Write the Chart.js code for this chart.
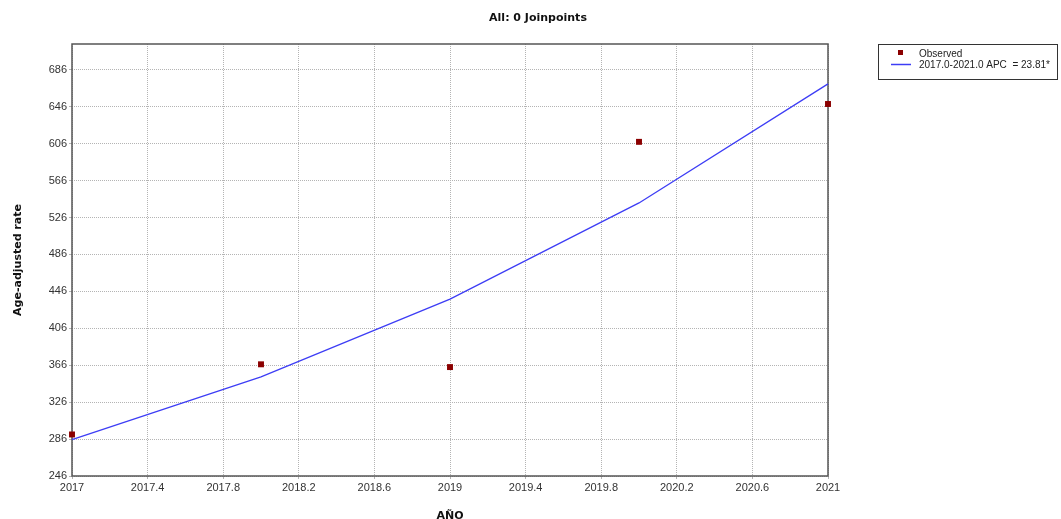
<!DOCTYPE html>
<html>
<head>
<meta charset="utf-8">
<script src="https://cdn.jsdelivr.net/npm/chart.js@4/dist/chart.umd.min.js"></script>
<style>
  html, body { margin: 0; padding: 0; background: #fff; }
  canvas { display: block; }
</style>
</head>
<body>
<canvas id="c" width="1061" height="519"></canvas>
<script>
// Observed age-adjusted rates by year
const years = [2017, 2018, 2019, 2020, 2021];
const observed = [291, 367, 364, 608, 649];
// Fitted values of the 0-joinpoint model (APC = 23.81%)
const fitted = [285.5, 353.5, 437.6, 541.8, 670.8];

const xTicks = [2017, 2017.4, 2017.8, 2018.2, 2018.6, 2019, 2019.4, 2019.8, 2020.2, 2020.6, 2021];
const yTicks = [246, 286, 326, 366, 406, 446, 486, 526, 566, 606, 646, 686];

const chartTitle = 'All: 0 Joinpoints';
const xTitle = 'AÑO';
const yTitle = 'Age-adjusted rate';
const legendLabels = ['Observed', '2017.0-2021.0 APC  = 23.81*'];

const tickFont = { family: 'Liberation Sans', size: 11 };
const boldFont = { family: 'DejaVu Sans', size: 11, weight: 'bold' };

const framePlugin = {
  id: 'frame',
  beforeDatasetsDraw(chart) {
    const { ctx, chartArea: a } = chart;
    ctx.save();
    // plot frame
    ctx.strokeStyle = '#555';
    ctx.lineWidth = 1.5;
    ctx.strokeRect(a.left, a.top, a.right - a.left, a.bottom - a.top);
    ctx.restore();
  },
  afterDraw(chart) {
    const { ctx } = chart;
    ctx.save();
    // title
    ctx.fillStyle = '#111';
    ctx.font = 'bold 11px "DejaVu Sans"';
    ctx.textAlign = 'center';
    ctx.textBaseline = 'middle';
    ctx.fillText(chartTitle, 538, 18);

    // legend box
    const lx = 878, ly = 44, lw = 179, lh = 35;
    ctx.strokeStyle = '#333';
    ctx.lineWidth = 1;
    ctx.strokeRect(lx + 0.5, ly + 0.5, lw, lh);
    const ds = chart.data.datasets;
    // marker entry
    ctx.fillStyle = ds[0].backgroundColor;
    ctx.fillRect(898, 50, 5, 5);
    // line entry
    ctx.strokeStyle = ds[1].borderColor;
    ctx.lineWidth = 1.5;
    ctx.beginPath();
    ctx.moveTo(891, 64.5);
    ctx.lineTo(911, 64.5);
    ctx.stroke();
    ctx.fillStyle = '#222';
    ctx.font = '10px "Liberation Sans"';
    ctx.textAlign = 'left';
    ctx.textBaseline = 'middle';
    ctx.fillText(legendLabels[0], 919, 54);
    ctx.fillText(legendLabels[1], 919, 65);
    ctx.restore();
  }
};

new Chart(document.getElementById('c'), {
  type: 'scatter',
  data: {
    datasets: [
      {
        label: legendLabels[0],
        data: years.map((x, i) => ({ x, y: observed[i] })),
        backgroundColor: '#8b0000',
        borderColor: '#8b0000',
        pointStyle: 'rect',
        pointRadius: 4.2,
        pointBorderWidth: 0,
        showLine: false,
        clip: false,
        order: 0
      },
      {
        label: legendLabels[1],
        data: years.map((x, i) => ({ x, y: fitted[i] })),
        borderColor: '#3d3df5',
        backgroundColor: '#3d3df5',
        borderWidth: 1.3,
        pointRadius: 0,
        showLine: true,
        tension: 0,
        clip: false,
        order: 1
      }
    ]
  },
  options: {
    responsive: false,
    animation: false,
    devicePixelRatio: 1,
    layout: { padding: { top: 44, right: 233, left: 0, bottom: 0 } },
    plugins: {
      legend: { display: false },
      title: { display: false },
      tooltip: { enabled: false }
    },
    scales: {
      x: {
        type: 'linear',
        min: 2017,
        max: 2021,
        afterBuildTicks(scale) { scale.ticks = xTicks.map(v => ({ value: v })); },
        afterFit(scale) { scale.height = 43; },
        ticks: {
          color: '#333',
          font: tickFont,
          padding: 2,
          maxRotation: 0,
          autoSkip: false,
          callback: v => String(Math.round(v * 10) / 10)
        },
        grid: {
          color: '#b4b4b4',
          lineWidth: 1,
          tickLength: 3,
          drawTicks: true
        },
        border: { display: false, dash: [1, 1] },
        title: {
          display: true,
          text: xTitle,
          color: '#111',
          font: boldFont,
          padding: { top: 10, bottom: -4 }
        }
      },
      y: {
        type: 'linear',
        min: 246,
        max: 714,
        afterBuildTicks(scale) { scale.ticks = yTicks.map(v => ({ value: v })); },
        afterFit(scale) { scale.width = 72; },
        ticks: {
          color: '#333',
          font: tickFont,
          padding: 2,
          autoSkip: false
        },
        grid: {
          color: '#b4b4b4',
          lineWidth: 1,
          tickLength: 3
        },
        border: { display: false, dash: [1, 1] },
        title: {
          display: true,
          text: yTitle,
          color: '#111',
          font: boldFont,
          padding: { top: 12, bottom: 0 }
        }
      }
    }
  },
  plugins: [framePlugin]
});
</script>
</body>
</html>
